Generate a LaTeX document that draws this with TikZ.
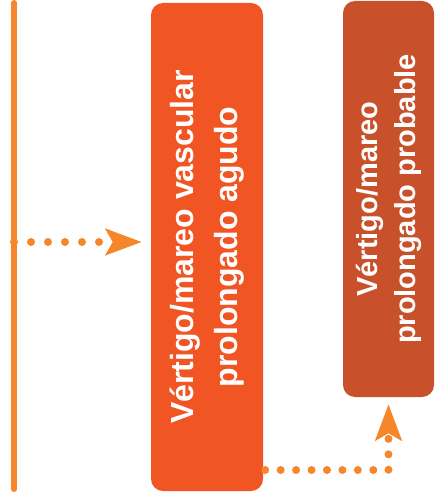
\documentclass[tikz,border=0pt]{standalone}
\usepackage{fontspec}
\setmainfont{Liberation Sans}
\usetikzlibrary{calc,positioning,arrows.meta}
\definecolor{boxOrange}{RGB}{240, 85, 35}
\definecolor{boxRust}{RGB}{200, 81, 43}
\definecolor{lineOrange}{RGB}{245, 134, 42}

\begin{document}
\begin{tikzpicture}[x=1pt, y=-1pt,
  box/.style={rounded corners=12pt, minimum width=#1, inner sep=0pt},
  boxtext/.style={rotate=90, align=center, text=white, font=\bfseries},
  dotarrow/.style={lineOrange, line width=8pt, line cap=round, line join=round, dash pattern=on 0pt off #1,
    -{Stealth[length=36pt, width=26pt, inset=7pt]}}]
\useasboundingbox (0,0) rectangle (435,500);
\draw[lineOrange, line width=6pt, line cap=round] (14,3) coordinate (top) -- (14,489) coordinate (bottom);
\coordinate (tap) at (14,242);
\node[box=112pt, minimum height=488pt, fill=boxOrange] (agudo) at (207,247) {};
\node[boxtext, font=\bfseries\fontsize{32}{44}\selectfont] (agudotext) at (agudo.center) {V\'ertigo/mareo vascular\\prolongado agudo};
\node[box=91pt, minimum height=396pt, fill=boxRust] (probable) at (388.5,199) {};
\node[boxtext, font=\bfseries\fontsize{29}{38}\selectfont] (probabletext) at (probable.center) {V\'ertigo/mareo\\prolongado probable};
\draw[dotarrow=17pt, shorten >=9pt] (tap) -- (tap -| agudo.west);
\draw[dotarrow=15.44pt, shorten <=2pt, shorten >=7pt] (agudo.east |- 0,470) -| (probable.south);
\end{tikzpicture}
\end{document}
